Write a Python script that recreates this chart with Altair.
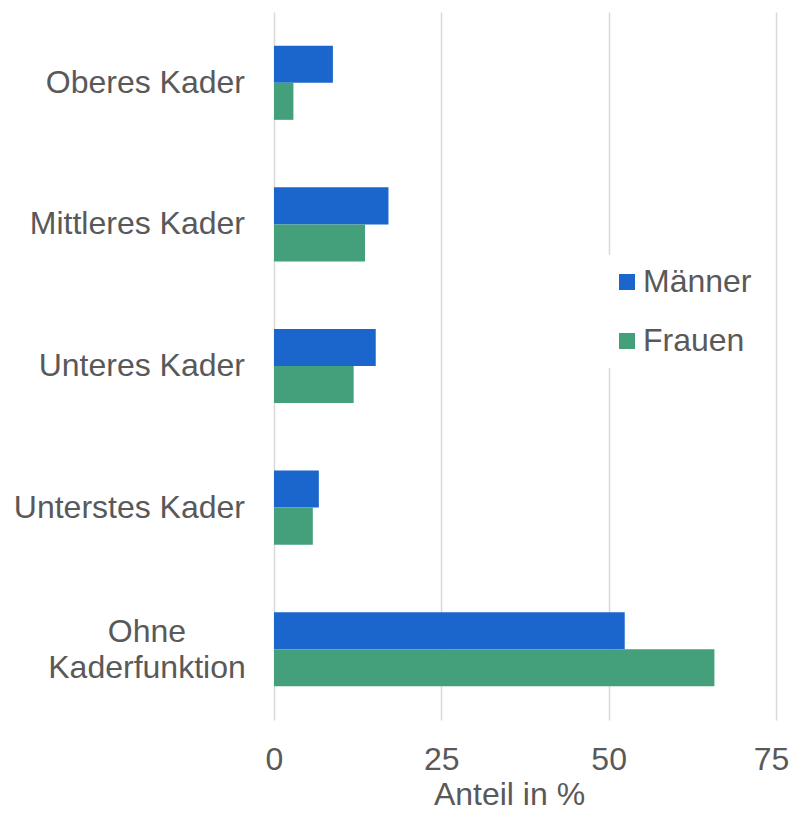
import altair as alt
import pandas as pd

categories = ["Oberes Kader", "Mittleres Kader", "Unteres Kader", "Unterstes Kader", "Ohne Kaderfunktion"]
series = ["Männer", "Frauen"]
maenner = [8.8, 17.1, 15.2, 6.7, 52.4]
frauen = [2.9, 13.6, 11.9, 5.8, 65.8]
colors = ["#1a66cc", "#43a07a"]
x_ticks = [0, 25, 50, 75]
label_text = ["Oberes Kader", "Mittleres Kader", "Unteres Kader", "Unterstes Kader", "Ohne\nKaderfunktion"]

rows = []
for c, m, f in zip(categories, maenner, frauen):
    rows.append({"Kategorie": c, "Geschlecht": "Männer", "Anteil": m})
    rows.append({"Kategorie": c, "Geschlecht": "Frauen", "Anteil": f})
df = pd.DataFrame(rows)
labels_df = pd.DataFrame({"Kategorie": categories, "Text": label_text,
                          "multi": [False, False, False, False, True]})

font = "Liberation Sans"
txt = "#595959"
fs = 32

y_enc = alt.Y("Kategorie:N", sort=categories,
              scale=alt.Scale(paddingInner=0.477, paddingOuter=0.2385),
              axis=alt.Axis(title=None, domain=False, ticks=False, labels=False))

bars = alt.Chart(df).mark_bar().encode(
    x=alt.X("Anteil:Q",
            scale=alt.Scale(domain=[0, 75], nice=False),
            axis=alt.Axis(values=x_ticks, title="Anteil in %", grid=True,
                          gridColor="#d9d9d9", gridWidth=1.5, domain=False,
                          ticks=False, labelFontSize=fs, titleFontSize=fs,
                          labelColor=txt, titleColor=txt, labelFont=font,
                          titleFont=font, titleFontWeight="normal",
                          labelFlush=False, titleX=235,
                          labelOffset={"condition": {"test": "datum.value == 75", "value": -5}, "value": 0},
                          labelPadding=24, titlePadding=4)),
    y=y_enc,
    yOffset=alt.YOffset("Geschlecht:N", sort=series,
                        scale=alt.Scale(paddingInner=0, paddingOuter=0)),
    color=alt.Color("Geschlecht:N", sort=series,
                    scale=alt.Scale(domain=series, range=colors),
                    legend=alt.Legend(title=None, orient="none",
                                      legendX=326, legendY=243,
                                      symbolType="square", symbolSize=256,
                                      symbolStrokeWidth=0,
                                      labelFontSize=fs, labelColor=txt,
                                      labelFont=font, labelOffset=0,
                                      rowPadding=27, fillColor="white",
                                      padding=11)),
)

single = alt.Chart(labels_df).transform_filter("!datum.multi").mark_text(
    align="right", baseline="middle", font=font, fontSize=fs, color=txt
).encode(y=alt.Y("Kategorie:N", sort=categories), x=alt.value(-29), text="Text:N")

multi = alt.Chart(labels_df).transform_filter("datum.multi").mark_text(
    align="center", baseline="middle", font=font, fontSize=fs, color=txt,
    lineBreak="\n", lineHeight=36, dy=-17
).encode(y=alt.Y("Kategorie:N", sort=categories), x=alt.value(-127), text="Text:N")

chart = alt.layer(bars, single, multi).properties(
    width=502, height=708,
    autosize=alt.AutoSizeParams(type="none"),
    padding={"left": 266, "top": 4, "right": 14, "bottom": 90},
).configure_view(stroke=None)

chart.save("out.html", embed_options={"renderer": "svg", "actions": False})
